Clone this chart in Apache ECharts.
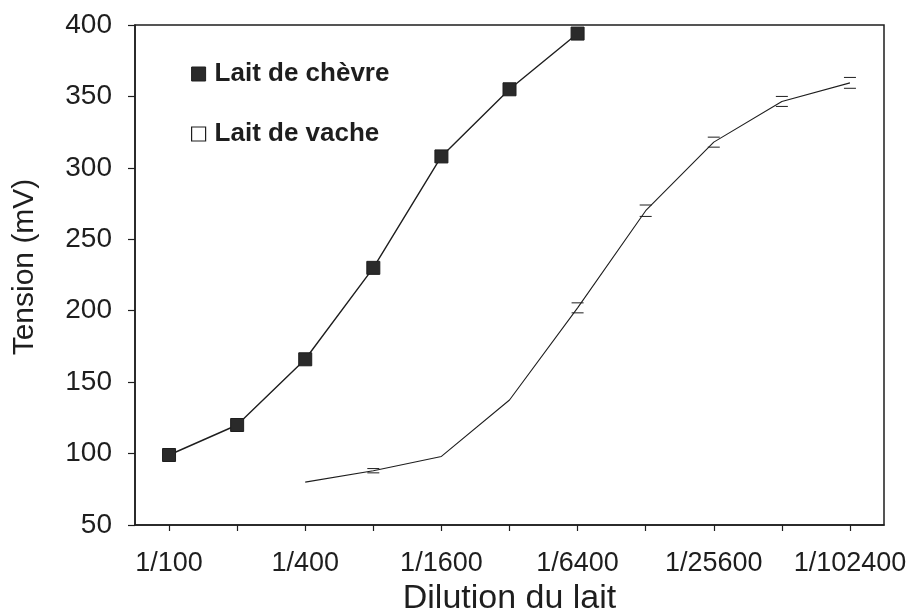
<!DOCTYPE html>
<html>
<head>
<meta charset="utf-8">
<script src="https://cdn.jsdelivr.net/npm/echarts@6/dist/echarts.min.js"></script>
<style>
  html, body { margin: 0; padding: 0; background: #fff; }
  #chart { width: 915px; height: 611px; }
</style>
</head>
<body>
<div id="chart"></div>
<script>
// Dilution steps (two-fold series)
const dilutions = ['1/100', '1/200', '1/400', '1/800', '1/1600', '1/3200', '1/6400',
                   '1/12800', '1/25600', '1/51200', '1/102400'];
// Tension (mV)
const goatMilk = [99, 120, 166, 230, 308, 355, 394, null, null, null, null];
const cowMilk = [null, null, 80, 88, 98, 137.5, 202, 270, 318, 346.5, 359.5];
// Half-width of the error bars on the cow milk curve (mV)
const cowError = [null, null, 0, 1.5, 0, 0, 3.5, 4, 3.5, 3.5, 3.8];

const yTicks = { min: 50, max: 400, step: 50 };

const ink = '#1e1e1e';
const font = '"Liberation Sans", Arial, Helvetica, sans-serif';

const errorData = cowMilk
  .map((v, i) => [i, v, cowError[i]])
  .filter(d => d[1] != null && d[2] > 0);

const chart = echarts.init(document.getElementById('chart'));
chart.setOption({
  animation: false,
  backgroundColor: '#fff',
  grid: {
    left: 135, right: 31, top: 25, bottom: 86,
    outerBoundsMode: 'none',
    containLabel: false,
    show: true, borderColor: ink, borderWidth: 1.5, backgroundColor: 'transparent'
  },
  legend: {
    orient: 'vertical',
    left: 186, top: 56,
    itemGap: 34,
    itemWidth: 14, itemHeight: 14,
    textStyle: { fontFamily: font, fontWeight: 'bold', fontSize: 26, color: ink, padding: [0, 0, 0, 4] },
    data: [
      { name: 'Lait de chèvre', icon: 'rect', itemStyle: { color: '#2a2a2a', borderColor: ink, borderWidth: 1 } },
      { name: 'Lait de vache', icon: 'rect', itemStyle: { color: '#fff', borderColor: ink, borderWidth: 1.2 } }
    ]
  },
  xAxis: {
    type: 'category',
    data: dilutions,
    boundaryGap: true,
    name: 'Dilution du lait',
    nameLocation: 'middle',
    nameGap: 56,
    nameTextStyle: { fontFamily: font, fontSize: 34, color: ink },
    axisLine: { lineStyle: { color: ink, width: 1.5 } },
    axisTick: { show: true, alignWithLabel: true, interval: 0, length: 6, lineStyle: { color: ink, width: 1.2 } },
    axisLabel: { interval: 1, margin: 25, fontFamily: font, fontSize: 27, color: ink },
    splitLine: { show: false }
  },
  yAxis: {
    type: 'value',
    min: yTicks.min, max: yTicks.max, interval: yTicks.step,
    name: 'Tension (mV)',
    nameLocation: 'middle',
    nameGap: 95,
    nameRotate: 90,
    nameTextStyle: { fontFamily: font, fontSize: 30, color: ink, padding: [0, 0, 0, 16] },
    axisLine: { show: true, lineStyle: { color: ink, width: 1.5 } },
    axisTick: { show: true, length: 7, lineStyle: { color: ink, width: 1.2 } },
    axisLabel: { margin: 23, fontFamily: font, fontSize: 28, color: ink },
    splitLine: { show: false }
  },
  series: [
    {
      name: 'Lait de chèvre',
      type: 'line',
      data: goatMilk,
      symbol: 'rect',
      symbolSize: 13,
      showAllSymbol: true,
      itemStyle: { color: '#2a2a2a', borderColor: ink, borderWidth: 1 },
      lineStyle: { color: ink, width: 1.4 },
      z: 3
    },
    {
      name: 'Lait de vache',
      type: 'line',
      data: cowMilk,
      symbol: 'none',
      itemStyle: { color: '#fff', borderColor: ink },
      lineStyle: { color: ink, width: 1.1 },
      z: 2
    },
    {
      name: 'erreur',
      type: 'custom',
      data: errorData,
      silent: true,
      z: 4,
      renderItem: function (params, api) {
        const i = api.value(0), v = api.value(1), e = api.value(2);
        const top = api.coord([i, v + e]);
        const bot = api.coord([i, v - e]);
        const half = 6;
        const style = { stroke: ink, lineWidth: 1 };
        return {
          type: 'group',
          children: [
            { type: 'line', shape: { x1: top[0] - half, y1: top[1], x2: top[0] + half, y2: top[1] }, style: style },
            { type: 'line', shape: { x1: bot[0] - half, y1: bot[1], x2: bot[0] + half, y2: bot[1] }, style: style }
          ]
        };
      }
    }
  ]
});
</script>
</body>
</html>
